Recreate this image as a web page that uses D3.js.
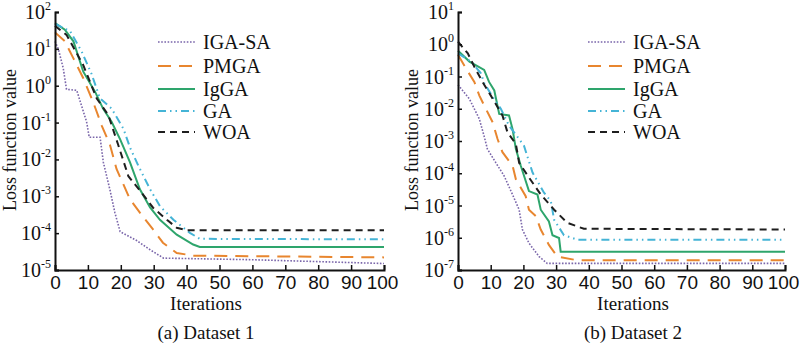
<!DOCTYPE html>
<html lang="en-US">
<head>
  <script src="https://d3js.org/d3.v7.min.js"></script>
  <style>
    body { margin: 0; background: #fff; }
    svg { font-family: "Liberation Serif", "Times New Roman", serif; }
  </style>
</head>
<body>

<svg width="800" height="344"></svg>

<script>
// series names, in legend order
var seriesNames = ["IGA-SA", "PMGA", "IgGA", "GA", "WOA"];
var xTicks = [0, 10, 20, 30, 40, 50, 60, 70, 80, 90, 100];
var yExpA = [2, 1, 0, -1, -2, -3, -4, -5];
var yExpB = [1, 0, -1, -2, -3, -4, -5, -6, -7];

// Dataset 1 : [iteration, loss]
var d1IGASA = [[0,16],[1,10],[2.5,3],[3.5,0.8],[6.6,0.75],[8,0.3],[9.6,0.105],[10.4,0.04],[13.7,0.04],[14.7,8.3e-3],[16.7,1.5e-3],[18.2,3.6e-4],[19.8,1.1e-4],[24.8,6.3e-5],[29,3.5e-5],[33,2.1e-5],[60,1.9e-5],[100,1.5e-5]];
var d1PMGA  = [[0,28],[3,16],[5.6,5.5],[8.6,1.6],[11.6,0.36],[14.2,0.083],[16.7,0.025],[18.7,5.5e-3],[22.8,8.3e-4],[25.8,3.6e-4],[29.8,1.26e-4],[32.8,5.5e-5],[37,2.9e-5],[42,2.45e-5],[100,2.2e-5]];
var d1IgGA  = [[0,50],[3,33],[5.6,16],[8.6,2.4],[12.2,0.68],[14.6,0.24],[17.2,0.105],[19.8,0.035],[22.8,8.3e-3],[25.8,1.55e-3],[28.9,5e-4],[31.9,2.3e-4],[37,9.1e-5],[42,4.9e-5],[44,4.2e-5],[100,4.2e-5]];
var d1GA    = [[0,48],[4.6,30],[8.1,8.5],[11.1,2.1],[13.7,0.45],[17.2,0.24],[20.8,0.068],[22.8,0.021],[25.3,6.8e-3],[28.9,1.55e-3],[31.9,5.4e-4],[36,2.3e-4],[41,1.02e-4],[44,7e-5],[100,6.8e-5]];
var d1WOA   = [[0,42],[3.5,24],[8.6,3.6],[12.7,0.45],[16.2,0.16],[19.2,0.025],[22.3,3.5e-3],[26.3,1.26e-3],[29.8,4.9e-4],[34,2.3e-4],[37,1.4e-4],[40,1.2e-4],[100,1.2e-4]];

// Dataset 2 : [iteration, loss]
var d2IGASA = [[0,0.055],[3.5,0.02],[6.5,4.9e-3],[8,1.4e-3],[9,5.6e-4],[11.6,2.1e-4],[14.1,8.3e-5],[16.2,2.8e-5],[18.7,7.4e-6],[19.7,1.8e-6],[21.7,6.8e-7],[24.8,2.6e-7],[27.3,1.6e-7],[100,1.6e-7]];
var d2PMGA  = [[0,0.47],[2.4,0.18],[5,0.068],[6.5,0.026],[8.5,0.01],[10.6,3.8e-3],[12.1,1.15e-3],[13.6,4.5e-4],[16.7,1.7e-4],[17.7,6.5e-5],[20.7,1.95e-5],[21.7,7.4e-6],[23.8,4.7e-6],[25.3,1.8e-6],[27.8,6e-7],[30.4,2.6e-7],[36.5,2e-7],[100,2e-7]];
var d2IgGA  = [[0,0.63],[3.5,0.29],[8,0.16],[9.5,0.068],[11.1,0.037],[12.6,6.9e-3],[15.6,6.2e-3],[16.7,2.3e-3],[17.7,5.6e-4],[19.2,1.7e-4],[21.7,2.8e-5],[24.3,2.2e-5],[25.3,7.4e-6],[27.8,3.2e-6],[28.9,1.2e-6],[30.9,9.8e-7],[31.4,3.7e-7],[100,3.7e-7]];
var d2GA    = [[0,0.52],[4,0.29],[7,0.126],[8,0.063],[11,0.02],[13.1,0.01],[15.6,3e-3],[18.7,1.15e-3],[20.2,7e-4],[22.8,1.05e-4],[26.3,2.5e-5],[28.4,1.35e-5],[29.4,3.6e-6],[32.4,1.2e-6],[36.5,8.7e-7],[100,8.7e-7]];
var d2WOA   = [[0,1.2],[3,0.52],[5,0.2],[7.5,0.068],[10,0.026],[13.6,6.2e-3],[15.1,1.9e-3],[17.7,8e-4],[18.7,2.1e-4],[21.7,7.4e-5],[25.3,2.2e-5],[29.4,7.4e-6],[33.4,2.9e-6],[38.5,1.9e-6],[100,1.8e-6]];

var styles = {
  "IGA-SA": {color: "#7a66aa", dash: "1.6,1.6", width: 1.6},
  "PMGA":   {color: "#e8862f", dash: "13,8", width: 2},
  "IgGA":   {color: "#2ea56c", dash: null, width: 2},
  "GA":     {color: "#45b4d6", dash: "8,4,1.5,4,1.5,4", width: 2},
  "WOA":    {color: "#1e1e1e", dash: "7,5", width: 2}
};

var svg = d3.select("svg");

function drawPanel(p) {
  var x = d3.scaleLinear().domain([0, 100]).range([p.x0, p.x1]);
  var y = d3.scaleLog().domain([Math.pow(10, p.exps[p.exps.length - 1]), Math.pow(10, p.exps[0])]).range([270, 12]);
  var g = svg.append("g");

  var line = d3.line().x(d => x(d[0])).y(d => y(d[1]));
  p.series.forEach(function(s, i) {
    var st = styles[seriesNames[i]];
    g.append("path")
      .attr("d", line(s))
      .attr("fill", "none")
      .attr("stroke", st.color)
      .attr("stroke-width", st.width)
      .attr("stroke-dasharray", st.dash);
  });

  // axes
  var xa = g.append("g").attr("transform", "translate(0,270)")
    .call(d3.axisBottom(x).tickValues(xTicks).tickSize(-5).tickPadding(6));
  var ya = g.append("g").attr("transform", "translate(" + p.x0 + ",0)")
    .call(d3.axisLeft(y).tickValues(p.exps.map(e => Math.pow(10, e))).tickSize(-4).tickFormat(""));
  [xa, ya].forEach(function(a) {
    a.select(".domain").attr("stroke", "#111").attr("stroke-width", 2);
    a.selectAll(".tick line").attr("stroke", "#111").attr("stroke-width", 1.5);
  });
  xa.selectAll(".tick text").attr("font-size", 19).attr("fill", "#111").attr("font-family", null)
    .filter(d => d === 100).attr("dx", -2);

  // y tick labels as 10^n
  p.exps.forEach(function(e) {
    var t = g.append("text")
      .attr("x", p.x0 - 4)
      .attr("y", y(Math.pow(10, e)) + 7)
      .attr("text-anchor", "end")
      .attr("fill", "#111")
      .attr("font-size", 20);
    t.append("tspan").text("10");
    t.append("tspan").attr("dy", -9).attr("font-size", 12).text(e < 0 ? "-" + (-e) : e);
  });

  g.append("text").attr("x", p.cx).attr("y", 310).attr("text-anchor", "middle")
    .attr("font-size", 19).attr("fill", "#111").text("Iterations");
  g.append("text").attr("x", p.cx).attr("y", 339).attr("text-anchor", "middle")
    .attr("font-size", 19).attr("fill", "#111").text(p.title);
  g.append("text").attr("transform", "translate(" + p.labelX + ",140) rotate(-90)")
    .attr("text-anchor", "middle").attr("font-size", 18).attr("fill", "#111")
    .text("Loss function value");

  // legend
  var rows = [42, 66, 89, 111, 132];
  seriesNames.forEach(function(n, i) {
    var st = styles[n];
    g.append("line")
      .attr("x1", p.legX).attr("x2", p.legX + 37)
      .attr("y1", rows[i]).attr("y2", rows[i])
      .attr("stroke", st.color).attr("stroke-width", st.width)
      .attr("stroke-dasharray", st.dash);
    g.append("text").attr("x", p.legX + 45).attr("y", rows[i] + 7)
      .attr("font-size", 20).attr("fill", "#111").text(n);
  });
}

drawPanel({x0: 55, x1: 384, exps: yExpA, title: "(a) Dataset 1", labelX: 16, legX: 158, cx: 206,
  series: [d1IGASA, d1PMGA, d1IgGA, d1GA, d1WOA]});
drawPanel({x0: 458, x1: 785, exps: yExpB, title: "(b) Dataset 2", labelX: 418, legX: 588, cx: 633,
  series: [d2IGASA, d2PMGA, d2IgGA, d2GA, d2WOA]});
</script>
</body>
</html>
